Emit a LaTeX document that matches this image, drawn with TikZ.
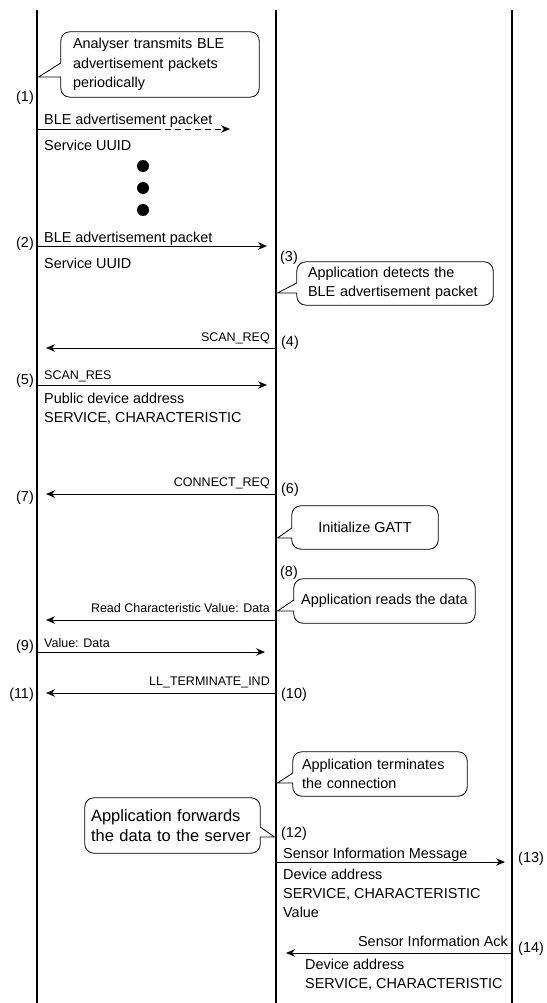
\documentclass[tikz,border=0pt]{standalone}
\usepackage{fontspec}
\setmainfont{Liberation Sans}
\usetikzlibrary{arrows.meta,positioning}

\tikzset{
  lane/.style={line width=2.8pt},
  msg/.style={line width=0.9pt,-{Stealth[length=9pt,width=7.5pt]}},
  txt/.style={inner sep=0pt,font=\fontsize{14.4}{19.5}\selectfont,text height=10.3pt,text depth=0pt},
  smalltxt/.style={inner sep=0pt,font=\fontsize{12.5}{15}\selectfont,text height=9pt,text depth=0pt},
  num/.style={txt},
  note/.style={inner ysep=0pt,font=\fontsize{14.4}{19.5}\selectfont},
  noteline/.style={line width=0.8pt}
}

\begin{document}
\begin{tikzpicture}[x=1pt,y=-1pt]
    \useasboundingbox (0,0) rectangle (546,1003);

    % lineas de vida: analizador, aplicacion, servidor
    \coordinate (ana) at (37,10);
    \coordinate (anaf) at (37,1003);
    \coordinate (app) at (276,10);
    \coordinate (appf) at (276,1003);
    \coordinate (srv) at (512,10);
    \coordinate (srvf) at (512,1003);
    \draw[lane] (ana) -- (anaf);
    \draw[lane] (app) -- (appf);
    \draw[lane] (srv) -- (srvf);

    % (1) globo del analizador
    \node[note, text width=174pt, inner xsep=12pt, minimum height=65pt, align=left] (n1) at (160,64.5) {Analyser transmits BLE\\advertisement packets\\periodically};
    \coordinate (n1p) at (38.5,77);
    \draw[noteline] (n1p) -- (n1.west |- 0,63) [rounded corners=9pt] -- (n1.north west) -- (n1.north east) -- (n1.south east) -- (n1.south west) [sharp corners] -- (n1.west |- n1p) -- cycle;

    % (1) paquete periodico
    \node[num, anchor=east] (k1) at (34,96) {(1)};
    \node[txt, anchor=west] (t1) at (44,119) {BLE advertisement packet};
    \coordinate (a1s) at (37,129);
    \coordinate (a1m) at (155,129);
    \coordinate (a1e) at (230,129);
    \draw[line width=0.9pt] (a1s) -- (a1m);
    \draw[msg, dash pattern=on 6pt off 4pt] (a1m) -- (a1e);
    \node[txt, anchor=west] (u1) at (44,145) {Service UUID};

    % puntos
    \foreach \y in {166,188,210}
        \fill (143,\y) circle (6);

    % (2) paquete detectado
    \node[num, anchor=east] (k2) at (34,242) {(2)};
    \node[txt, anchor=west] (t2) at (44,237) {BLE advertisement packet};
    \coordinate (a2s) at (37,246);
    \coordinate (a2e) at (267,246);
    \draw[msg] (a2s) -- (a2e);
    \node[txt, anchor=west] (u2) at (44,263) {Service UUID};

    % (3) globo de la aplicacion
    \node[num, anchor=west] (k3) at (280,256) {(3)};
    \node[note, text width=174pt, inner xsep=11pt, minimum height=43pt, align=left] (n2) at (395,283.5) {Application detects the\\BLE advertisement packet};
    \coordinate (n2p) at (277.5,293);
    \draw[noteline] (n2p) -- (n2.west |- 0,283) [rounded corners=9pt] -- (n2.north west) -- (n2.north east) -- (n2.south east) -- (n2.south west) [sharp corners] -- (n2.west |- n2p) -- cycle;

    % (4) SCAN_REQ
    \node[num, anchor=west] (k4) at (281,341) {(4)};
    \node[smalltxt, anchor=east] (t4) at (270,337) {SCAN\_REQ};
    \coordinate (a4s) at (276,348);
    \coordinate (a4e) at (46,348);
    \draw[msg] (a4s) -- (a4e);

    % (5) SCAN_RES
    \node[num, anchor=east] (k5) at (34,379) {(5)};
    \node[smalltxt, anchor=west] (t5) at (44,375) {SCAN\_RES};
    \coordinate (a5s) at (37,385);
    \coordinate (a5e) at (267,385);
    \draw[msg] (a5s) -- (a5e);
    \node[txt, anchor=west] (u5) at (44,398) {Public device address};
    \node[txt, anchor=west] (v5) at (44,417) {SERVICE, CHARACTERISTIC};

    % (6) CONNECT_REQ
    \node[num, anchor=west] (k6) at (281,488) {(6)};
    \node[num, anchor=east] (k7) at (34,496) {(7)};
    \node[smalltxt, anchor=east] (t6) at (270,482) {CONNECT\_REQ};
    \coordinate (a6s) at (276,494);
    \coordinate (a6e) at (46,494);
    \draw[msg] (a6s) -- (a6e);

    % globo GATT
    \node[note, minimum width=146pt, minimum height=43pt] (n3) at (365,527.5) {Initialize GATT};
    \coordinate (n3p) at (277.5,538);
    \draw[noteline] (n3p) -- (n3.west |- 0,528) [rounded corners=9pt] -- (n3.north west) -- (n3.north east) -- (n3.south east) -- (n3.south west) [sharp corners] -- (n3.west |- n3p) -- cycle;

    % (8) lectura
    \node[num, anchor=west] (k8) at (280,571) {(8)};
    \node[note, minimum width=181pt, minimum height=44pt] (n4) at (384.5,601) {Application reads the data};
    \coordinate (n4p) at (277.5,611);
    \draw[noteline] (n4p) -- (n4.west |- 0,600) [rounded corners=9pt] -- (n4.north west) -- (n4.north east) -- (n4.south east) -- (n4.south west) [sharp corners] -- (n4.west |- n4p) -- cycle;
    \node[smalltxt, anchor=east] (t8) at (270,608) {Read Characteristic Value: Data};
    \coordinate (a8s) at (276,620);
    \coordinate (a8e) at (46,620);
    \draw[msg] (a8s) -- (a8e);

    % (9) valor
    \node[num, anchor=east] (k9) at (34,645) {(9)};
    \node[smalltxt, anchor=west] (t9) at (44,643) {Value: Data};
    \coordinate (a9s) at (37,652);
    \coordinate (a9e) at (265,652);
    \draw[msg] (a9s) -- (a9e);

    % (10) fin de conexion
    \node[num, anchor=west] (k10) at (281,693) {(10)};
    \node[num, anchor=east] (k11) at (34,693) {(11)};
    \node[smalltxt, anchor=east] (t10) at (270,681) {LL\_TERMINATE\_IND};
    \coordinate (a10s) at (276,693);
    \coordinate (a10e) at (46,693);
    \draw[msg] (a10s) -- (a10e);

    % globo de terminacion
    \node[note, text width=156pt, inner xsep=9pt, minimum height=44pt, align=left] (n5) at (380,774) {Application terminates\\the connection};
    \coordinate (n5p) at (277.5,783);
    \draw[noteline] (n5p) -- (n5.west |- 0,773) [rounded corners=9pt] -- (n5.north west) -- (n5.north east) -- (n5.south east) -- (n5.south west) [sharp corners] -- (n5.west |- n5p) -- cycle;

    % globo de reenvio
    \node[note, font=\fontsize{16.5}{20}\selectfont, text width=163pt, inner xsep=6pt, minimum height=55pt, align=left] (n6) at (172.5,825.5) {Application forwards\\the data to the server};
    \coordinate (n6p) at (274.5,837);
    \draw[noteline] (n6p) -- (n6.east |- 0,827) [rounded corners=9pt] -- (n6.north east) -- (n6.north west) -- (n6.south west) -- (n6.south east) [sharp corners] -- (n6.east |- n6p) -- cycle;

    % (12)-(13) mensaje al servidor
    \node[num, anchor=west] (k12) at (281,832) {(12)};
    \node[num, anchor=west] (k13) at (518,857) {(13)};
    \node[txt, anchor=west] (t12) at (283,853) {Sensor Information Message};
    \coordinate (a12s) at (276,862);
    \coordinate (a12e) at (505,862);
    \draw[msg] (a12s) -- (a12e);
    \node[txt, anchor=west] (u12) at (283,874) {Device address};
    \node[txt, anchor=west] (v12) at (283,893) {SERVICE, CHARACTERISTIC};
    \node[txt, anchor=west] (w12) at (283,912) {Value};

    % (14) acuse del servidor
    \node[num, anchor=west] (k14) at (518,947) {(14)};
    \node[txt, anchor=east] (t14) at (508,941) {Sensor Information Ack};
    \coordinate (a14s) at (512,953);
    \coordinate (a14e) at (286,953);
    \draw[msg] (a14s) -- (a14e);
    \node[txt, anchor=west] (u14) at (305,964) {Device address};
    \node[txt, anchor=west] (v14) at (305,983) {SERVICE, CHARACTERISTIC};

\end{tikzpicture}
\end{document}
